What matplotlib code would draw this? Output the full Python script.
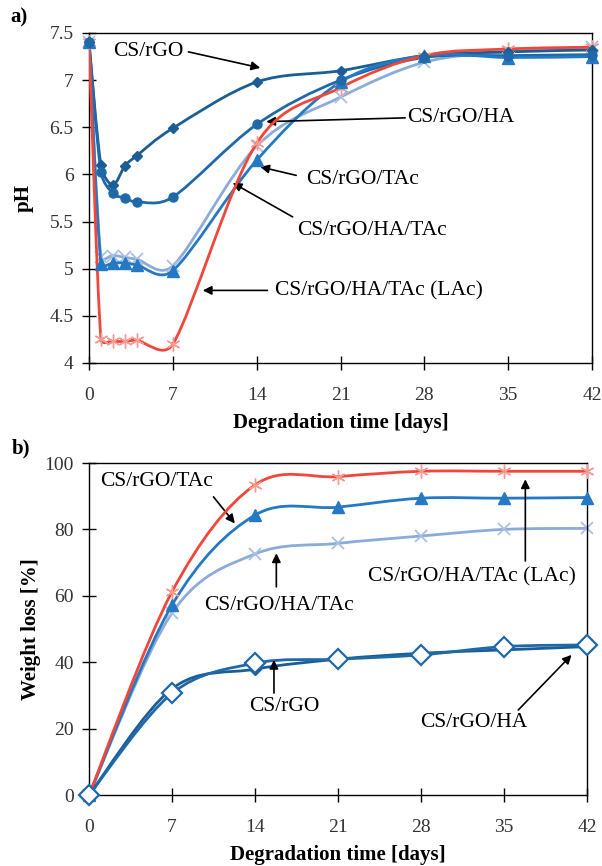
import numpy as np
import matplotlib
matplotlib.use("Agg")
import matplotlib.pyplot as plt
from matplotlib.path import Path
from matplotlib.patches import PathPatch

plt.rcParams['font.family'] = ['Liberation Serif', 'DejaVu Serif']

# ---- data: pH (panel a)
days_ph = [0, 1, 2, 3, 4, 7, 14, 21, 28, 35, 42]
ph_rgo = [7.40, 6.10, 5.89, 6.09, 6.20, 6.49, 6.98, 7.10, 7.26, 7.30, 7.32]
ph_ha = [7.40, 6.03, 5.80, 5.75, 5.71, 5.76, 6.53, 7.00, 7.24, 7.26, 7.27]
ph_tac = [7.40, 5.05, 5.06, 5.06, 5.04, 4.98, 6.15, 6.98, 7.26, 7.24, 7.25]
ph_hatac = [7.40, 5.12, 5.14, 5.12, 5.10, 5.03, 6.30, 6.82, 7.19, 7.30, 7.35]
ph_lac = [7.40, 4.25, 4.23, 4.23, 4.24, 4.20, 6.33, 6.92, 7.26, 7.33, 7.35]

# ---- data: weight loss (panel b)
days_wl = [0, 7, 14, 21, 28, 35, 42]
wl_rgo = [0, 32.0, 37.9, 40.9, 42.7, 43.7, 44.7]
wl_ha = [0, 30.6, 39.7, 40.9, 42.2, 44.7, 45.2]
wl_tac = [0, 57.2, 84.3, 86.7, 89.4, 89.4, 89.6]
wl_hatac = [0, 54.8, 72.6, 75.8, 78.0, 80.0, 80.3]
wl_lac = [0, 61.2, 93.4, 95.9, 97.5, 97.5, 97.5]

c_rgo = '#1b5e95'
c_ha = '#1f69a8'
c_tac = '#2479c2'
c_hatac = '#8babd8'
c_hatac_m = '#a9c0e6'
c_lac = '#f2463a'
c_lac_m = '#f59a92'

W, H = 602, 866
fig = plt.figure(figsize=(W / 100, H / 100), dpi=100)
ax1 = fig.add_axes([89 / W, 1 - 363 / H, 503 / W, 330 / H])
ax2 = fig.add_axes([89 / W, 1 - 795 / H, 498 / W, 332 / H])


def smooth_line(ax, x, y, color, lw=2.0, z=2):
    """excel-like smoothed line through the points (bezier segments)"""
    pos = ax.get_position()
    x0, x1 = ax.get_xlim()
    y0, y1 = ax.get_ylim()
    sx = pos.width * W / (x1 - x0)
    sy = pos.height * H / (y1 - y0)
    P = np.column_stack([np.array(x, float) * sx, np.array(y, float) * sy])
    n = len(P)
    verts = [P[0]]
    codes = [Path.MOVETO]
    for i in range(n - 1):
        p0 = P[i - 1] if i > 0 else P[i]
        p1 = P[i]
        p2 = P[i + 1]
        p3 = P[i + 2] if i + 2 < n else P[i + 1]
        d = np.linalg.norm(p2 - p1)
        t1 = (p2 - p0) / 6
        t2 = (p3 - p1) / 6
        for t in (t1, t2):
            L = np.linalg.norm(t)
            if L > d * 0.5:
                t *= d * 0.5 / L
        verts += [p1 + t1, p2 - t2, p2]
        codes += [Path.CURVE4] * 3
    verts = np.array(verts) / [sx, sy]
    ax.add_patch(PathPatch(Path(verts, codes), fill=False, edgecolor=color,
                           lw=lw, zorder=z, capstyle='round', joinstyle='round'))


def style_axes(ax):
    for s in ax.spines.values():
        s.set_linewidth(1.0)
        s.set_color('black')
    ax.tick_params(direction='inout', length=10, width=1.0, labelsize=14,
                   colors='black', labelcolor='#333333')
    ax.tick_params(axis='y', pad=6)
    ax.tick_params(axis='x', pad=12)


def arrow(ax, tail, tip):
    ax.annotate('', xy=tip, xytext=tail,
                arrowprops=dict(arrowstyle='-|>', color='black', lw=1.2,
                                mutation_scale=13, shrinkA=0, shrinkB=0))


# ---------------- panel a
ax1.set_xlim(0, 42)
ax1.set_ylim(4, 7.5)
ax1.set_xticks(range(0, 43, 7))
ax1.set_yticks(np.arange(4, 7.51, 0.5))
ax1.set_yticklabels(['%g' % v for v in np.arange(4, 7.51, 0.5)])
style_axes(ax1)

smooth_line(ax1, days_ph, ph_rgo, c_rgo, z=3)
ax1.plot(days_ph, ph_rgo, ls='none', marker='D', ms=5, color=c_rgo, zorder=4, clip_on=False)
smooth_line(ax1, days_ph, ph_ha, c_ha, z=3)
ax1.plot(days_ph, ph_ha, ls='none', marker='o', ms=6.5, color=c_ha, zorder=4, clip_on=False)
smooth_line(ax1, days_ph, ph_hatac, c_hatac, z=2)
ax1.plot(days_ph, ph_hatac, ls='none', marker='x', ms=8, mew=1.3, color=c_hatac_m, zorder=2.5, clip_on=False)
smooth_line(ax1, days_ph, ph_tac, c_tac, z=3)
ax1.plot(days_ph, ph_tac, ls='none', marker='^', ms=8, color=c_tac, zorder=3.5, clip_on=False)
smooth_line(ax1, days_ph, ph_lac, c_lac, z=3.2)
ax1.plot(days_ph, ph_lac, ls='none', marker=(6, 2, 0), ms=10, mew=1.0, color=c_lac_m, zorder=3.3, clip_on=False)

fs = 15.5
ax1.text(2.0, 7.30, 'CS/rGO', fontsize=fs, va='center')
arrow(ax1, (8.3, 7.30), (14.3, 7.13))
ax1.text(26.6, 6.60, 'CS/rGO/HA', fontsize=fs, va='center')
arrow(ax1, (26.4, 6.60), (14.8, 6.56))
ax1.text(18.1, 5.95, 'CS/rGO/TAc', fontsize=fs, va='center')
arrow(ax1, (17.3, 5.99), (14.3, 6.08))
ax1.text(17.4, 5.41, 'CS/rGO/HA/TAc', fontsize=fs, va='center')
arrow(ax1, (17.0, 5.55), (12.0, 5.91))
ax1.text(15.5, 4.76, 'CS/rGO/HA/TAc (LAc)', fontsize=fs, va='center')
arrow(ax1, (14.9, 4.77), (9.5, 4.77))

ax1.set_ylabel('pH', fontsize=15, fontweight='bold')
ax1.yaxis.set_label_coords(-0.11, 0.5)
ax1.set_xlabel('Degradation time [days]', fontsize=15, fontweight='bold')
ax1.xaxis.set_label_coords(0.5, -0.152)

# ---------------- panel b
ax2.set_xlim(0, 42)
ax2.set_ylim(0, 100)
ax2.set_xticks(range(0, 43, 7))
ax2.set_yticks(range(0, 101, 20))
style_axes(ax2)

smooth_line(ax2, days_wl, wl_hatac, c_hatac, z=2)
ax2.plot(days_wl, wl_hatac, ls='none', marker='x', ms=8, mew=1.3, color=c_hatac_m, zorder=2.5, clip_on=False)
smooth_line(ax2, days_wl, wl_tac, c_tac, z=3)
ax2.plot(days_wl, wl_tac, ls='none', marker='^', ms=8, color=c_tac, zorder=3.5, clip_on=False)
smooth_line(ax2, days_wl, wl_lac, c_lac, z=3.2)
ax2.plot(days_wl, wl_lac, ls='none', marker=(6, 2, 0), ms=10, mew=1.0, color=c_lac_m, zorder=3.3, clip_on=False)
smooth_line(ax2, days_wl, wl_rgo, c_rgo, z=3)
ax2.plot(days_wl, wl_rgo, ls='none', marker='D', ms=6, color=c_rgo, zorder=4, clip_on=False)
smooth_line(ax2, days_wl, wl_ha, c_ha, z=3)
ax2.plot(days_wl, wl_ha, ls='none', marker='D', ms=10, mfc='white', mew=1.6, color=c_ha, zorder=4, clip_on=False)

ax2.text(0.93, 94.4, 'CS/rGO/TAc', fontsize=fs, va='center')
arrow(ax2, (10.5, 89.8), (12.3, 81.8))
ax2.text(9.7, 57.2, 'CS/rGO/HA/TAc', fontsize=fs, va='center')
arrow(ax2, (15.8, 62.7), (15.8, 72.8))
ax2.text(23.5, 65.8, 'CS/rGO/HA/TAc (LAc)', fontsize=fs, va='center')
arrow(ax2, (36.8, 70.5), (36.8, 95.1))
ax2.text(13.5, 26.6, 'CS/rGO', fontsize=fs, va='center')
arrow(ax2, (15.6, 30.7), (15.6, 40.7))
ax2.text(27.9, 21.9, 'CS/rGO/HA', fontsize=fs, va='center')
arrow(ax2, (36.2, 25.6), (40.7, 42.2))

ax2.set_ylabel('Weight loss [%]', fontsize=15, fontweight='bold')
ax2.yaxis.set_label_coords(-0.097, 0.5)
ax2.set_xlabel('Degradation time [days]', fontsize=15, fontweight='bold')
ax2.xaxis.set_label_coords(0.5, -0.151)

fig.text(10 / W, 1 - 17 / H, 'a)', fontsize=15, fontweight='bold', va='center')
fig.text(12 / W, 1 - 448 / H, 'b)', fontsize=15, fontweight='bold', va='center')

fig.savefig('out.png', dpi=100)
